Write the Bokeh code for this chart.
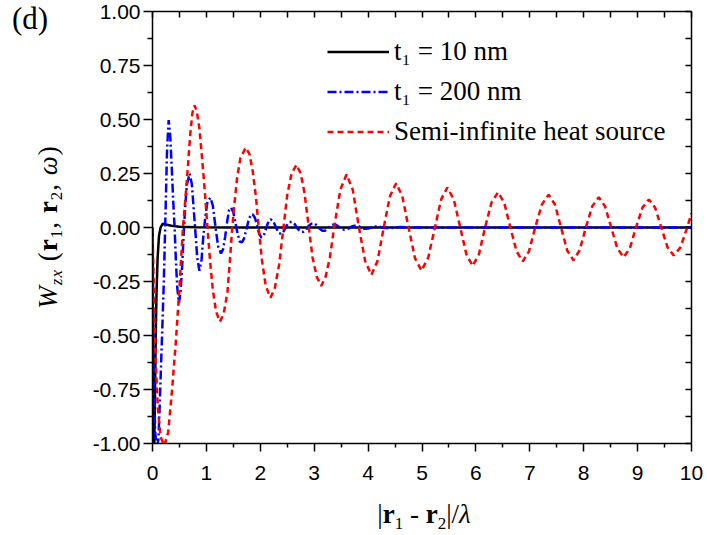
from bokeh.plotting import figure
from bokeh.layouts import row, column
from bokeh.models import (Range1d, LinearAxis, FixedTicker, NumeralTickFormatter,
                          Legend, LegendItem, Div)
from bokeh.embed import file_html
from bokeh.resources import INLINE

# ---------------- data ----------------
x_black = [0.0, 0.012, 0.03, 0.045, 0.06, 0.075, 0.095, 0.12, 0.15, 0.19, 0.25,
           0.35, 0.5, 0.8, 1.5, 10.0]
y_black = [0.0, -1.05, -1.05, -0.8, -0.5, -0.3, -0.14, -0.04, 0.0, 0.018, 0.014,
           0.008, 0.004, 0.001, 0.0, 0.0]

x_blue = [0.0, 0.015, 0.03, 0.05, 0.08, 0.11, 0.13, 0.15, 0.18, 0.21, 0.24, 0.27,
          0.30, 0.33, 0.36, 0.385, 0.41, 0.435, 0.46, 0.49, 0.52, 0.55, 0.58, 0.61,
          0.64, 0.69, 0.73, 0.76, 0.79, 0.83, 0.87, 0.91, 0.94, 0.98, 1.02, 1.076,
          1.12, 1.15, 1.18, 1.22, 1.27, 1.31, 1.35, 1.38, 1.42, 1.46, 1.50, 1.54,
          1.58, 1.62, 1.66, 1.70, 1.74, 1.78, 1.82, 1.86, 1.90, 1.94, 1.98, 2.02,
          2.06, 2.10, 2.14, 2.19, 2.24, 2.29, 2.34, 2.39, 2.44, 2.49, 2.54, 2.59,
          2.64, 2.69, 2.75, 2.80, 2.85, 2.90, 2.95, 3.00, 3.05, 3.10, 3.15, 3.20,
          3.25, 3.30, 3.35, 3.40, 3.45, 3.50, 3.55, 3.60, 3.65, 3.70, 3.75, 3.80,
          3.85, 3.90, 3.95, 4.00, 4.10, 4.20, 4.30, 4.40, 4.60, 4.80, 10.0]
y_blue = [0.0, -0.4, -0.75, -0.95, -1.02, -0.98, -0.85, -0.70, -0.48, -0.25, 0.05, 0.36,
          0.497, 0.42, 0.26, 0.12, 0.0, -0.16, -0.28, -0.35, -0.30, -0.18, -0.02, 0.11,
          0.20, 0.25, 0.20, 0.10, 0.0, -0.14, -0.20, -0.15, -0.05, 0.05, 0.12, 0.138,
          0.10, 0.04, -0.02, -0.09, -0.12, -0.10, -0.04, 0.02, 0.08, 0.092, 0.07, 0.02,
          -0.03, -0.065, -0.069, -0.05, -0.01, 0.03, 0.058, 0.061, 0.045, 0.01, -0.03, -0.046,
          -0.04, -0.01, 0.02, 0.038, 0.03, 0.0, -0.025, -0.03, -0.015, 0.01, 0.025, 0.026,
          0.015, -0.005, -0.02, -0.02, -0.01, 0.008, 0.018, 0.02, 0.01, -0.005, -0.015, -0.015,
          -0.005, 0.008, 0.013, 0.013, 0.005, -0.006, -0.01, -0.01, -0.003, 0.005, 0.008, 0.008,
          0.003, -0.004, -0.006, -0.005, 0.004, 0.005, -0.002, -0.003, 0.002, 0.0, 0.0]

x_red = [0.0, 0.03, 0.06, 0.10, 0.15, 0.22, 0.29, 0.36, 0.43, 0.50, 0.565, 0.60, 0.65,
         0.70, 0.74, 0.78, 0.82, 0.87, 0.92, 0.97, 1.02, 1.07, 1.12, 1.18, 1.25, 1.32,
         1.39, 1.44, 1.48, 1.52, 1.57, 1.63, 1.73, 1.80, 1.86, 1.92, 1.97, 2.03, 2.10,
         2.19, 2.27, 2.35, 2.43, 2.50, 2.58, 2.67, 2.75, 2.82, 2.90, 2.97, 3.05, 3.13,
         3.21, 3.29, 3.37, 3.485, 3.60, 3.715, 3.83, 3.945, 4.06, 4.175, 4.29, 4.405,
         4.52, 4.635, 4.75, 4.87, 4.99, 5.115, 5.24, 5.355, 5.47, 5.59, 5.71, 5.825,
         5.94, 6.055, 6.17, 6.29, 6.41, 6.525, 6.64, 6.755, 6.87, 6.985, 7.10, 7.225,
         7.35, 7.465, 7.58, 7.695, 7.81, 7.925, 8.04, 8.16, 8.28, 8.395, 8.51, 8.625,
         8.74, 8.855, 8.97, 9.09, 9.21, 9.325, 9.44, 9.555, 9.67, 9.795, 9.92, 10.0]
y_red = [0.0, -0.35, -0.62, -0.84, -0.97, -1.01, -0.95, -0.76, -0.54, -0.28, 0.0, 0.10, 0.26,
         0.43, 0.53, 0.566, 0.54, 0.46, 0.32, 0.17, 0.0, -0.16, -0.29, -0.39, -0.436, -0.40,
         -0.30, -0.14, 0.0, 0.11, 0.23, 0.32, 0.37, 0.34, 0.26, 0.14, 0.0, -0.15, -0.27,
         -0.325, -0.28, -0.17, 0.0, 0.15, 0.25, 0.29, 0.25, 0.16, 0.0, -0.14, -0.23, -0.27,
         -0.23, -0.14, 0.0, 0.175, 0.245, 0.175, 0.0, -0.155, -0.22, -0.155, 0.0, 0.145,
         0.205, 0.145, 0.0, -0.142, -0.20, -0.14, 0.0, 0.13, 0.185, 0.13, 0.0, -0.126,
         -0.178, -0.125, 0.0, 0.116, 0.163, 0.115, 0.0, -0.111, -0.157, -0.11, 0.0, 0.107,
         0.152, 0.107, 0.0, -0.107, -0.152, -0.105, 0.0, 0.099, 0.14, 0.099, 0.0, -0.097,
         -0.138, -0.097, 0.0, 0.092, 0.13, 0.092, 0.0, -0.092, -0.13, -0.092, 0.0, 0.066]

series_labels = ["t\u2081 = 10 nm", "t\u2081 = 200 nm", "Semi-infinite heat source"]
x_ticks = [0, 1, 2, 3, 4, 5, 6, 7, 8, 9, 10]
x_minor = [0.5 + i for i in range(10)]
y_ticks = [-1.0, -0.75, -0.5, -0.25, 0.0, 0.25, 0.5, 0.75, 1.0]
y_minor = [-0.875, -0.625, -0.375, -0.125, 0.125, 0.375, 0.625, 0.875]

TICK_FONT = "Liberation Sans"
SERIF = "Liberation Serif"

# ---------------- layout sizes ----------------
LEFT_W = 72
MAIN_W = 635
MAIN_H = 492
BOTTOM_H = 43

# ---------------- main figure ----------------
p = figure(width=MAIN_W, height=MAIN_H, output_backend="svg", toolbar_location=None,
           x_range=Range1d(0, 10), y_range=Range1d(-1, 1),
           min_border_left=80, min_border_right=16, min_border_top=11,
           min_border_bottom=49, margin=0)
p.outline_line_color = None
p.xgrid.visible = False
p.ygrid.visible = False
p.background_fill_color = "white"
p.border_fill_color = "white"

xa = p.xaxis[0]
xa.ticker = FixedTicker(ticks=x_ticks, minor_ticks=x_minor)
xa.major_tick_out = 8
xa.major_tick_in = 0
xa.minor_tick_out = 4
xa.minor_tick_in = 0
xa.major_label_standoff = 14
xa.major_label_text_font = TICK_FONT
xa.major_label_text_font_size = "21px"
xa.major_label_text_color = "black"

ya = p.yaxis[0]
ya.ticker = FixedTicker(ticks=y_ticks, minor_ticks=y_minor)
ya.formatter = NumeralTickFormatter(format="0.00")
ya.major_tick_out = 9
ya.major_tick_in = 0
ya.minor_tick_out = 5
ya.minor_tick_in = 0
ya.major_label_standoff = 3
ya.major_label_text_font = TICK_FONT
ya.major_label_text_font_size = "21px"
ya.major_label_text_color = "black"

for ax in (xa, ya):
    ax.axis_line_width = 1.5
    ax.axis_line_color = "black"
    ax.major_tick_line_width = 1.5
    ax.minor_tick_line_width = 1.5
    ax.major_tick_line_color = "black"
    ax.minor_tick_line_color = "black"

# mirrored axes: inward ticks only, no labels
top = LinearAxis(ticker=FixedTicker(ticks=[], minor_ticks=sorted(x_ticks + x_minor)))
right = LinearAxis(ticker=FixedTicker(ticks=[], minor_ticks=sorted(y_ticks + y_minor)))
for ax in (top, right):
    ax.major_tick_out = 0
    ax.major_tick_in = 0
    ax.minor_tick_out = 0
    ax.minor_tick_in = 6
    ax.major_label_standoff = 0
    ax.axis_line_width = 1.5
    ax.axis_line_color = "black"
    ax.minor_tick_line_width = 1.5
    ax.minor_tick_line_color = "black"
p.add_layout(top, "above")
p.add_layout(right, "right")

# ---------------- curves ----------------
r_black = p.line(x_black, y_black, line_color="black", line_width=2.5)
r_blue = p.line(x_blue, y_blue, line_color="#0000ff", line_width=2.5,
                line_dash="9 3 2 3")
r_red = p.line(x_red, y_red, line_color="#ff0000", line_width=2.5,
               line_dash="6 4")

legend = Legend(items=[LegendItem(label=series_labels[0], renderers=[r_black]),
                       LegendItem(label=series_labels[1], renderers=[r_blue]),
                       LegendItem(label=series_labels[2], renderers=[r_red])],
                location=(175, 296), padding=0, margin=0, spacing=9,
                glyph_width=62, glyph_height=31, label_height=31,
                label_standoff=5, label_text_font=SERIF,
                label_text_font_size="27px", label_text_color="black",
                background_fill_alpha=0, border_line_alpha=0)
p.add_layout(legend, "center")

# ---------------- axis titles and panel tag as HTML text ----------------
SUB = "font-size:17px;line-height:17px;vertical-align:-5px;"
left_html = (
    f'<div style="position:relative;width:{LEFT_W}px;height:{MAIN_H}px;'
    f"font-family:'{SERIF}';color:#000;\">"
    '<div style="position:absolute;left:12px;top:2px;font-size:31px;'
    'line-height:34px;white-space:nowrap;">(d)</div>'
    '<div style="position:absolute;left:50px;top:227px;'
    'transform:translate(-50%,-50%) rotate(-90deg);font-size:27px;'
    'line-height:27px;white-space:nowrap;letter-spacing:1px;">'
    f'<i>W</i><span style="{SUB}"><i>zx</i></span> '
    f'(<b>r</b><span style="{SUB}">1</span>, '
    f'<b>r</b><span style="{SUB}">2</span>, <i>\u03c9</i>)'
    '</div></div>'
)
bottom_html = (
    f'<div style="position:relative;width:{LEFT_W + MAIN_W}px;height:{BOTTOM_H}px;'
    f"font-family:'{SERIF}';color:#000;\">"
    '<div style="position:absolute;left:424px;top:9px;transform:translateX(-50%);'
    'font-size:27px;line-height:27px;white-space:nowrap;">'
    f'|<b>r</b><span style="{SUB}vertical-align:-6px;">1</span> - '
    f'<b>r</b><span style="{SUB}vertical-align:-6px;">2</span>|/<i>\u03bb</i>'
    '</div></div>'
)
left_div = Div(text=left_html, width=LEFT_W, height=MAIN_H, margin=0,
               styles={"overflow": "visible"})
bottom_div = Div(text=bottom_html, width=LEFT_W + MAIN_W, height=BOTTOM_H, margin=0,
                 styles={"overflow": "visible"})

layout = column(row(left_div, p, spacing=0, margin=0), bottom_div, spacing=0, margin=0)
open("out.html", "w").write(file_html(layout, INLINE))
